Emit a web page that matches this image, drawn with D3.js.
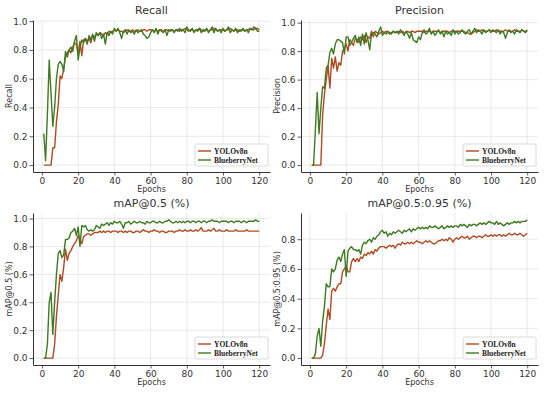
<!DOCTYPE html>
<html>
<head>
<meta charset="utf-8">
<script src="https://cdn.jsdelivr.net/npm/d3@7"></script>
<style>
  body { margin: 0; background: #fff; }
  svg { display: block; font-family: "DejaVu Sans", sans-serif; }
</style>
</head>
<body>
<div id="chart"></div>
<script>
// epochs 1..120
const epochs = d3.range(1, 121);
const seriesNames = ['YOLOv8n', 'BlueberryNet'];
const xTicks = [0, 20, 40, 60, 80, 100, 120];
const yTickValues = [0, 0.2, 0.4, 0.6, 0.8, 1.0];

const recallYolo = [
  0,0,0,0,0,0.12,0.12,0.30,0.42,0.62,
  0.60,0.67,0.75,0.78,0.80,0.78,0.82,0.85,0.84,0.78,
  0.86,0.76,0.87,0.88,0.86,0.88,0.85,0.90,0.89,0.91,
  0.90,0.92,0.91,0.90,0.92,0.91,0.93,0.92,0.93,0.94,
  0.93,0.94,0.93,0.93,0.92,0.93,0.94,0.93,0.93,0.94,
  0.93,0.93,0.94,0.93,0.93,0.94,0.94,0.93,0.94,0.94,
  0.94,0.93,0.94,0.93,0.94,0.94,0.93,0.94,0.94,0.93,
  0.94,0.94,0.93,0.94,0.94,0.93,0.94,0.94,0.95,0.94,
  0.93,0.94,0.94,0.93,0.94,0.94,0.95,0.94,0.93,0.94,
  0.94,0.93,0.94,0.94,0.95,0.94,0.93,0.94,0.94,0.94,
  0.93,0.94,0.94,0.95,0.94,0.93,0.94,0.94,0.93,0.94,
  0.94,0.93,0.94,0.94,0.95,0.94,0.94,0.95,0.95,0.94
];
const recallBlue = [
  0.22,0.03,0.35,0.73,0.50,0.27,0.40,0.60,0.70,0.72,
  0.70,0.65,0.79,0.75,0.80,0.82,0.79,0.86,0.90,0.73,
  0.82,0.87,0.85,0.88,0.84,0.90,0.87,0.91,0.86,0.92,
  0.90,0.92,0.88,0.91,0.84,0.92,0.90,0.93,0.91,0.95,
  0.93,0.95,0.92,0.88,0.93,0.94,0.91,0.94,0.92,0.93,
  0.91,0.94,0.92,0.93,0.94,0.91,0.90,0.88,0.89,0.92,
  0.94,0.92,0.95,0.91,0.94,0.93,0.92,0.94,0.90,0.94,
  0.93,0.94,0.92,0.94,0.93,0.95,0.93,0.94,0.92,0.96,
  0.94,0.93,0.95,0.92,0.94,0.93,0.95,0.92,0.94,0.93,
  0.95,0.92,0.94,0.96,0.92,0.95,0.93,0.94,0.92,0.95,
  0.93,0.94,0.96,0.92,0.94,0.93,0.95,0.92,0.94,0.93,
  0.95,0.93,0.94,0.92,0.95,0.94,0.96,0.95,0.93,0.93
];

const precYolo = [
  0,0,0,0,0,0,0.35,0.50,0.60,0.70,
  0.54,0.75,0.68,0.76,0.66,0.72,0.70,0.80,0.82,0.85,
  0.80,0.88,0.86,0.84,0.89,0.88,0.86,0.90,0.88,0.91,
  0.86,0.90,0.89,0.94,0.90,0.94,0.93,0.92,0.93,0.94,
  0.93,0.94,0.93,0.92,0.93,0.94,0.93,0.93,0.94,0.93,
  0.94,0.93,0.93,0.94,0.93,0.94,0.94,0.93,0.94,0.94,
  0.94,0.94,0.93,0.94,0.94,0.94,0.93,0.94,0.94,0.94,
  0.94,0.93,0.94,0.94,0.94,0.94,0.93,0.94,0.94,0.94,
  0.94,0.94,0.94,0.94,0.94,0.93,0.93,0.92,0.92,0.93,
  0.94,0.95,0.94,0.94,0.95,0.94,0.94,0.94,0.95,0.94,
  0.94,0.94,0.95,0.94,0.94,0.94,0.94,0.95,0.94,0.94,
  0.94,0.94,0.95,0.94,0.94,0.94,0.95,0.94,0.94,0.94
];
const precBlue = [
  0,0,0.25,0.51,0.22,0.40,0.55,0.54,0.68,0.70,
  0.79,0.82,0.78,0.85,0.88,0.88,0.87,0.86,0.78,0.90,
  0.90,0.84,0.86,0.89,0.91,0.86,0.90,0.84,0.92,0.85,
  0.93,0.88,0.81,0.92,0.93,0.92,0.90,0.94,0.97,0.91,
  0.93,0.92,0.94,0.93,0.92,0.94,0.93,0.94,0.92,0.95,
  0.93,0.91,0.94,0.92,0.89,0.93,0.88,0.87,0.86,0.90,
  0.88,0.93,0.95,0.92,0.93,0.96,0.92,0.94,0.91,0.93,
  0.95,0.92,0.94,0.90,0.94,0.92,0.93,0.91,0.95,0.92,
  0.94,0.92,0.93,0.95,0.93,0.92,0.94,0.95,0.92,0.94,
  0.96,0.93,0.95,0.94,0.92,0.95,0.93,0.94,0.95,0.93,
  0.95,0.94,0.93,0.95,0.92,0.94,0.93,0.89,0.93,0.95,
  0.93,0.94,0.92,0.95,0.94,0.93,0.95,0.94,0.93,0.95
];

const map50Yolo = [
  0,0,0,0,0,0,0.10,0.30,0.45,0.60,
  0.55,0.65,0.78,0.70,0.75,0.77,0.80,0.82,0.84,0.88,
  0.85,0.82,0.87,0.88,0.89,0.89,0.88,0.89,0.90,0.90,
  0.90,0.91,0.90,0.91,0.90,0.91,0.91,0.90,0.91,0.91,
  0.91,0.90,0.91,0.91,0.90,0.91,0.90,0.91,0.91,0.90,
  0.90,0.91,0.91,0.90,0.91,0.92,0.91,0.91,0.90,0.91,
  0.91,0.92,0.91,0.91,0.90,0.91,0.91,0.90,0.90,0.91,
  0.91,0.91,0.90,0.91,0.91,0.92,0.91,0.91,0.92,0.91,
  0.91,0.92,0.91,0.91,0.92,0.91,0.92,0.935,0.91,0.91,
  0.91,0.92,0.91,0.92,0.93,0.91,0.91,0.92,0.91,0.91,
  0.91,0.92,0.91,0.91,0.91,0.91,0.92,0.91,0.91,0.91,
  0.91,0.91,0.92,0.91,0.91,0.91,0.91,0.91,0.91,0.91
];
const map50Blue = [
  0,0,0.10,0.40,0.47,0.17,0.40,0.60,0.75,0.77,
  0.72,0.74,0.85,0.85,0.86,0.90,0.91,0.93,0.88,0.94,
  0.80,0.95,0.94,0.95,0.92,0.91,0.92,0.91,0.92,0.95,
  0.94,0.93,0.96,0.95,0.96,0.97,0.95,0.97,0.96,0.98,
  0.97,0.97,0.98,0.96,0.93,0.97,0.97,0.98,0.96,0.97,
  0.98,0.97,0.97,0.98,0.97,0.97,0.96,0.98,0.97,0.97,
  0.98,0.98,0.97,0.97,0.98,0.97,0.97,0.98,0.98,0.99,
  0.98,0.97,0.97,0.98,0.97,0.98,0.97,0.98,0.97,0.98,
  0.98,0.97,0.98,0.98,0.97,0.98,0.98,0.97,0.98,0.98,
  0.97,0.98,0.98,0.99,0.98,0.98,0.98,0.97,0.98,0.98,
  0.98,0.98,0.97,0.98,0.98,0.97,0.98,0.98,0.98,0.97,
  0.98,0.98,0.97,0.98,0.98,0.98,0.98,0.99,0.98,0.98
];

const map5095Yolo = [
  0,0,0,0,0,0,0.02,0.10,0.22,0.33,
  0.26,0.45,0.47,0.45,0.48,0.50,0.50,0.58,0.60,0.62,
  0.58,0.58,0.65,0.67,0.65,0.67,0.65,0.68,0.67,0.70,
  0.69,0.71,0.70,0.72,0.70,0.73,0.72,0.74,0.75,0.75,
  0.75,0.74,0.75,0.76,0.75,0.76,0.74,0.76,0.77,0.76,
  0.78,0.77,0.77,0.78,0.77,0.78,0.77,0.78,0.79,0.78,
  0.78,0.77,0.78,0.79,0.78,0.79,0.78,0.77,0.77,0.78,
  0.79,0.79,0.80,0.79,0.80,0.79,0.81,0.80,0.78,0.80,
  0.81,0.80,0.81,0.82,0.81,0.81,0.82,0.80,0.81,0.82,
  0.82,0.81,0.82,0.82,0.81,0.82,0.83,0.82,0.82,0.83,
  0.82,0.83,0.82,0.83,0.83,0.82,0.83,0.82,0.83,0.84,
  0.83,0.83,0.84,0.83,0.83,0.84,0.83,0.82,0.83,0.84
];
const map5095Blue = [
  0,0,0.03,0.15,0.20,0.08,0.25,0.35,0.50,0.48,
  0.48,0.60,0.58,0.60,0.66,0.68,0.65,0.70,0.73,0.55,
  0.72,0.74,0.75,0.73,0.73,0.72,0.73,0.70,0.76,0.78,
  0.77,0.79,0.80,0.78,0.81,0.80,0.82,0.83,0.85,0.86,
  0.84,0.85,0.82,0.84,0.83,0.85,0.84,0.85,0.86,0.85,
  0.84,0.86,0.85,0.86,0.87,0.85,0.87,0.86,0.87,0.88,
  0.87,0.88,0.87,0.88,0.87,0.89,0.88,0.88,0.89,0.88,
  0.87,0.88,0.89,0.87,0.88,0.89,0.88,0.89,0.88,0.89,
  0.89,0.88,0.90,0.89,0.90,0.89,0.88,0.90,0.89,0.90,
  0.90,0.89,0.90,0.91,0.90,0.91,0.90,0.91,0.92,0.91,
  0.91,0.90,0.92,0.90,0.91,0.90,0.89,0.90,0.91,0.90,
  0.91,0.91,0.92,0.91,0.92,0.91,0.92,0.92,0.92,0.93
];

const colors = ['#b04a22', '#3f7a22'];

const width = 550, height = 393;

const svg = d3.select('#chart')
  .append('svg')
  .attr('width', width)
  .attr('height', height);

function drawPanel(p) {
  let g = svg.append('g');

  let x = d3.scaleLinear()
    .domain([1 - 0.05 * 119, 120 + 0.05 * 119])
    .range([p.left, p.right]);

  let maxY = d3.max([d3.max(p.a), d3.max(p.b)]);
  let top = maxY * 1.05;
  let y = d3.scaleLinear()
    .domain([-0.05 * maxY, top])
    .range([p.bottom, p.top]);

  let yTicks = yTickValues.filter(v => v <= top);

  // grid
  g.append('g').selectAll('line')
    .data(xTicks)
    .enter().append('line')
    .attr('x1', d => x(d)).attr('x2', d => x(d))
    .attr('y1', p.top).attr('y2', p.bottom)
    .attr('stroke', '#e3e3e3').attr('stroke-width', 0.8);
  g.append('g').selectAll('line')
    .data(yTicks)
    .enter().append('line')
    .attr('x1', p.left).attr('x2', p.right)
    .attr('y1', d => y(d)).attr('y2', d => y(d))
    .attr('stroke', '#e3e3e3').attr('stroke-width', 0.8);

  // axes
  let xAxis = g.append('g')
    .attr('transform', 'translate(0,' + p.bottom + ')')
    .call(d3.axisBottom(x).tickValues(xTicks).tickSize(3.5).tickPadding(2).tickSizeOuter(0));
  let yAxis = g.append('g')
    .attr('transform', 'translate(' + p.left + ',0)')
    .call(d3.axisLeft(y).tickValues(yTicks).tickFormat(d3.format('.1f')).tickSize(3.5).tickPadding(2).tickSizeOuter(0));
  [xAxis, yAxis].forEach(a => {
    a.select('.domain').attr('stroke', '#333').attr('stroke-width', 1);
    a.selectAll('.tick line').attr('stroke', '#333').attr('stroke-width', 0.8);
    a.selectAll('.tick text')
      .attr('fill', '#333')
      .style('font-size', '9px')
      .style('font-family', '"DejaVu Sans", sans-serif');
  });

  // lines
  let line = d3.line()
    .x((d, i) => x(epochs[i]))
    .y(d => y(d));
  [p.a, p.b].forEach((s, i) => {
    g.append('path')
      .datum(s)
      .attr('d', line)
      .attr('fill', 'none')
      .attr('stroke', colors[i])
      .attr('stroke-width', 1.4)
      .attr('stroke-linejoin', 'round');
  });

  // title and labels
  let cx = (p.left + p.right) / 2;
  g.append('text')
    .attr('x', cx).attr('y', p.top - 6)
    .attr('text-anchor', 'middle')
    .attr('fill', '#333')
    .style('font-size', '11px')
    .text(p.title);
  g.append('text')
    .attr('x', cx).attr('y', p.bottom + 20)
    .attr('text-anchor', 'middle')
    .attr('fill', '#333')
    .style('font-size', '8px')
    .text('Epochs');
  g.append('text')
    .attr('transform', 'translate(' + (p.left - 21) + ',' + ((p.top + p.bottom) / 2) + ') rotate(-90)')
    .attr('text-anchor', 'middle')
    .attr('fill', '#333')
    .style('font-size', '8px')
    .text(p.ylabel);

  // legend
  let lg = g.append('g')
    .attr('transform', 'translate(' + (p.right - 75) + ',' + (p.bottom - 28) + ')');
  lg.append('rect')
    .attr('width', 73).attr('height', 22)
    .attr('rx', 1.5)
    .attr('fill', '#fff')
    .attr('stroke', '#d0d0d0')
    .attr('stroke-width', 0.8);
  seriesNames.forEach((name, i) => {
    let yy = 7 + i * 9;
    lg.append('line')
      .attr('x1', 3).attr('x2', 16)
      .attr('y1', yy).attr('y2', yy)
      .attr('stroke', colors[i]).attr('stroke-width', 1.4);
    lg.append('text')
      .attr('x', 19).attr('y', yy + 2.6)
      .style('font-family', '"Liberation Serif", serif')
      .style('font-weight', 'bold')
      .style('font-size', '7.5px')
      .attr('fill', '#222')
      .text(name);
  });
}

drawPanel({title: 'Recall', ylabel: 'Recall', a: recallYolo, b: recallBlue,
  left: 33, right: 270, top: 20, bottom: 172});
drawPanel({title: 'Precision', ylabel: 'Precision', a: precYolo, b: precBlue,
  left: 301, right: 538, top: 20, bottom: 172});
drawPanel({title: 'mAP@0.5 (%)', ylabel: 'mAP@0.5 (%)', a: map50Yolo, b: map50Blue,
  left: 33, right: 270, top: 213, bottom: 365});
drawPanel({title: 'mAP@0.5:0.95 (%)', ylabel: 'mAP@0.5:0.95 (%)', a: map5095Yolo, b: map5095Blue,
  left: 301, right: 538, top: 213, bottom: 365});
</script>
</body>
</html>
